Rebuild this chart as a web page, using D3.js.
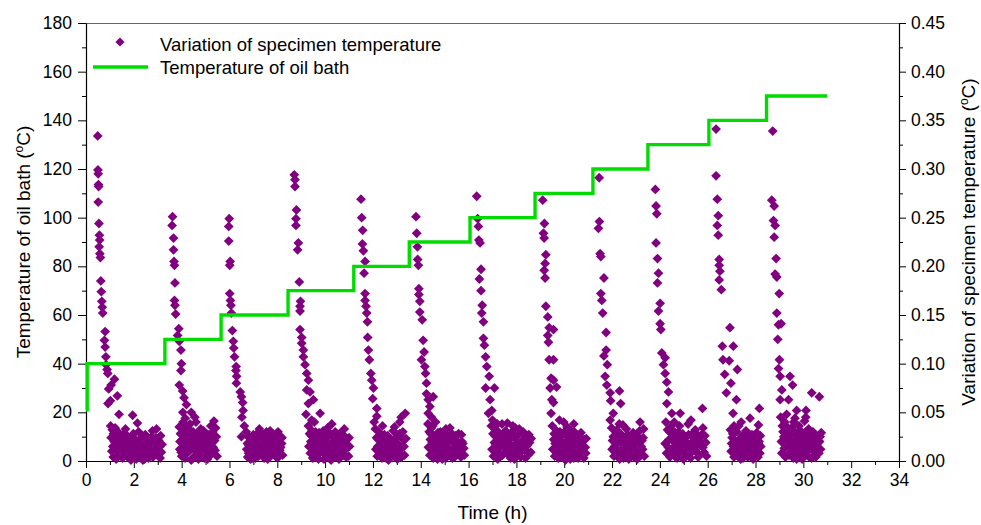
<!DOCTYPE html>
<html>
<head>
<meta charset="utf-8">
<script src="https://cdn.jsdelivr.net/npm/d3@7"></script>
<style>
body{margin:0;background:#fff;}
text{font-family:"Liberation Sans",Arial,sans-serif;fill:#000;}
</style>
</head>
<body>
<svg id="chart" width="981" height="525"></svg>
<script>
// ---- data ----
const xTicks = [0,2,4,6,8,10,12,14,16,18,20,22,24,26,28,30,32,34];
const leftTicks = [0,20,40,60,80,100,120,140,160,180];
const rightTicks = [0,0.05,0.10,0.15,0.20,0.25,0.30,0.35,0.40,0.45];
const seriesNames = ["Variation of specimen temperature","Temperature of oil bath"];

// oil bath step profile
const stepTimes  = [0, 0.05, 3.30, 5.65, 8.45, 11.20, 13.52, 16.06, 18.78, 21.20, 23.50, 26.05, 28.46, 31.00];
const stepLevels = [21, 40, 50, 60, 70, 80, 90, 100, 110, 120, 130, 140, 150, 150];

// variation of specimen temperature [time h, value °C] - decay branches and noise
const specimen = [
// cycle 1
[0.49,0.334],[0.50,0.299],[0.51,0.295],[0.52,0.284],[0.53,0.282],[0.51,0.266],[0.54,0.244],[0.56,0.232],[0.57,0.227],[0.55,0.220],[0.58,0.213],[0.60,0.209],[0.62,0.185],[0.64,0.174],[0.66,0.164],[0.68,0.158],[0.70,0.152],[0.80,0.133],[0.77,0.124],[0.80,0.117],[0.83,0.107],[0.84,0.099],[0.88,0.094],[0.91,0.090],[1.19,0.084],[1.05,0.078],[0.95,0.074],[1.31,0.067],[1.02,0.062],[0.92,0.059],[1.38,0.048],[1.95,0.047],[2.15,0.039],
[1.03,0.036],[1.10,0.032],[1.15,0.028],[1.22,0.034],[1.05,0.024],[1.18,0.020],[1.28,0.025],[1.35,0.018],[1.12,0.015],[1.25,0.012],[1.40,0.022],[1.45,0.008],[1.30,0.005],[1.50,0.015],[1.58,0.028],[1.62,0.010],[1.70,0.020],[1.75,0.004],[1.82,0.014],[1.90,0.024],[1.95,0.007],[2.02,0.017],[2.10,0.002],[2.18,0.012],[2.25,0.022],[2.32,0.006],[2.40,0.016],[2.48,0.027],[2.55,0.010],[2.62,0.003],[2.70,0.019],[2.78,0.031],[2.85,0.012],[2.92,0.024],[3.00,0.006],[3.08,0.015],[3.15,0.009],[2.20,0.030],[1.65,0.033],[2.95,0.033],
// cycle 2
[3.62,0.251],[3.60,0.242],[3.66,0.229],[3.66,0.217],[3.68,0.205],[3.70,0.201],[3.72,0.183],[3.70,0.165],[3.72,0.160],[3.75,0.151],[3.88,0.136],[3.83,0.129],[3.90,0.123],[3.97,0.114],[3.99,0.100],[3.97,0.093],[3.90,0.078],[4.04,0.072],[4.10,0.065],[4.20,0.058],[4.40,0.050],[4.05,0.050],[4.15,0.044],[4.55,0.045],[4.60,0.040],[4.35,0.038],
[3.90,0.035],[3.95,0.028],[4.02,0.022],[4.08,0.030],[4.12,0.015],[4.18,0.025],[4.22,0.008],[4.28,0.019],[4.32,0.031],[4.38,0.012],[4.45,0.024],[4.50,0.004],[4.55,0.017],[4.62,0.028],[4.68,0.009],[4.72,0.020],[4.80,0.033],[4.85,0.013],[4.90,0.024],[4.95,0.003],[5.02,0.016],[5.10,0.027],[5.15,0.008],[5.22,0.036],[5.28,0.019],[5.35,0.041],[5.40,0.011],[5.45,0.025],[4.00,0.005],[4.70,0.002],[3.92,0.012],
// cycle 3
[5.99,0.249],[5.97,0.241],[5.97,0.226],[6.03,0.205],[6.01,0.201],[6.01,0.172],[6.04,0.165],[6.06,0.160],[6.08,0.152],[6.12,0.134],[6.16,0.123],[6.18,0.116],[6.21,0.107],[6.28,0.097],[6.27,0.093],[6.30,0.087],[6.29,0.080],[6.45,0.071],[6.50,0.066],[6.55,0.060],[6.57,0.052],[6.52,0.045],[6.50,0.025],[6.62,0.036],
[6.70,0.030],[6.75,0.018],[6.80,0.008],[6.85,0.024],[6.92,0.013],[6.98,0.003],[7.05,0.020],[7.10,0.010],[7.15,0.028],[7.22,0.005],[7.28,0.016],[7.35,0.024],[7.40,0.008],[7.48,0.013],[7.55,0.030],[7.60,0.002],[7.68,0.019],[7.75,0.009],[7.80,0.027],[7.88,0.014],[7.95,0.004],[8.02,0.022],[8.03,0.030],[8.10,0.011],[8.18,0.018],[8.22,0.006],[7.25,0.033],[7.70,0.031],[6.88,0.002],
// cycle 4
[8.71,0.294],[8.74,0.289],[8.74,0.282],[8.80,0.258],[8.78,0.249],[8.78,0.242],[8.88,0.224],[8.85,0.217],[8.92,0.184],[8.97,0.164],[8.95,0.159],[8.95,0.154],[8.95,0.135],[9.02,0.127],[9.02,0.121],[9.09,0.114],[9.09,0.107],[9.16,0.099],[9.23,0.090],[9.30,0.083],[9.23,0.073],[9.37,0.071],[9.30,0.059],[9.51,0.063],[9.44,0.042],[9.79,0.049],[9.20,0.048],
[9.30,0.036],[9.35,0.028],[9.40,0.020],[9.45,0.031],[9.52,0.012],[9.58,0.024],[9.62,0.005],[9.68,0.017],[9.75,0.029],[9.80,0.009],[9.88,0.021],[9.95,0.002],[10.00,0.014],[10.08,0.026],[10.12,0.007],[10.20,0.018],[10.28,0.038],[10.32,0.011],[10.40,0.023],[10.45,0.004],[10.52,0.016],[10.60,0.028],[10.65,0.008],[10.72,0.020],[10.80,0.033],[10.85,0.012],[10.92,0.022],[10.98,0.005],[11.02,0.015],[9.55,0.040],[10.25,0.001],
// cycle 5
[11.50,0.269],[11.53,0.250],[11.57,0.237],[11.56,0.223],[11.60,0.216],[11.67,0.205],[11.63,0.193],[11.67,0.172],[11.67,0.165],[11.71,0.159],[11.74,0.152],[11.77,0.143],[11.78,0.127],[11.81,0.114],[11.85,0.104],[11.91,0.090],[11.95,0.083],[12.02,0.075],[11.99,0.064],[12.16,0.054],[12.16,0.046],[12.05,0.040],
[12.10,0.033],[12.15,0.024],[12.20,0.015],[12.25,0.030],[12.30,0.006],[12.35,0.020],[12.42,0.011],[12.48,0.027],[12.55,0.003],[12.60,0.017],[12.68,0.009],[12.72,0.023],[12.80,0.013],[12.85,0.031],[12.92,0.004],[12.98,0.018],[13.05,0.026],[13.10,0.008],[13.18,0.045],[13.22,0.014],[13.28,0.022],[13.35,0.049],[13.32,0.006],[12.40,0.036],[12.65,0.001],
// cycle 6
[13.80,0.251],[13.83,0.234],[13.86,0.220],[13.87,0.207],[13.90,0.201],[13.92,0.177],[13.92,0.171],[13.96,0.164],[13.96,0.153],[14.06,0.145],[14.10,0.124],[14.14,0.112],[14.03,0.104],[14.17,0.097],[14.20,0.090],[14.24,0.080],[14.24,0.069],[14.31,0.063],[14.52,0.066],[14.31,0.049],[14.38,0.056],[14.45,0.045],
[14.30,0.038],[14.35,0.030],[14.40,0.022],[14.45,0.034],[14.50,0.012],[14.55,0.026],[14.60,0.005],[14.65,0.018],[14.72,0.029],[14.78,0.009],[14.85,0.021],[14.90,0.002],[14.95,0.015],[15.02,0.025],[15.08,0.007],[15.15,0.019],[15.22,0.034],[15.28,0.011],[15.35,0.022],[15.42,0.004],[15.50,0.016],[15.58,0.028],[15.65,0.009],[15.72,0.020],[15.80,0.013],[14.62,0.040],
// cycle 7
[16.34,0.272],[16.38,0.249],[16.41,0.241],[16.43,0.227],[16.48,0.224],[16.52,0.197],[16.45,0.187],[16.52,0.175],[16.57,0.160],[16.55,0.152],[16.62,0.143],[16.62,0.126],[16.66,0.119],[16.71,0.107],[16.76,0.097],[16.86,0.087],[16.71,0.075],[17.08,0.075],[16.90,0.063],[16.97,0.052],[16.83,0.049],[17.00,0.042],
[16.95,0.036],[17.02,0.028],[17.08,0.019],[17.12,0.032],[17.18,0.010],[17.25,0.024],[17.30,0.004],[17.38,0.016],[17.45,0.028],[17.50,0.008],[17.58,0.021],[17.62,0.039],[17.68,0.013],[17.75,0.003],[17.82,0.025],[17.88,0.015],[17.95,0.034],[18.02,0.006],[18.08,0.019],[18.15,0.029],[18.22,0.010],[18.30,0.022],[18.38,0.003],[18.45,0.016],[18.52,0.027],[18.60,0.009],[17.40,0.038],
// cycle 8
[19.10,0.268],[19.17,0.244],[19.13,0.234],[19.16,0.229],[19.23,0.212],[19.20,0.203],[19.16,0.196],[19.20,0.188],[19.23,0.159],[19.31,0.148],[19.37,0.137],[19.31,0.129],[19.34,0.122],[19.37,0.104],[19.45,0.085],[19.41,0.075],[19.48,0.063],[19.45,0.049],[19.55,0.135],[19.55,0.104],[19.55,0.083],[19.68,0.076],[19.55,0.060],[19.80,0.042],
[19.50,0.036],[19.58,0.028],[19.62,0.018],[19.68,0.031],[19.72,0.010],[19.78,0.022],[19.85,0.004],[19.90,0.015],[19.95,0.027],[20.02,0.008],[20.08,0.020],[20.12,0.035],[20.18,0.012],[20.25,0.002],[20.30,0.024],[20.38,0.014],[20.42,0.030],[20.50,0.006],[20.55,0.018],[20.62,0.026],[20.68,0.009],[20.75,0.021],[20.82,0.003],[20.88,0.014],[20.92,0.023],[19.98,0.040],
// cycle 9
[21.46,0.291],[21.47,0.246],[21.43,0.239],[21.50,0.213],[21.53,0.210],[21.66,0.188],[21.53,0.172],[21.57,0.165],[21.61,0.152],[21.75,0.132],[21.75,0.114],[21.66,0.108],[21.80,0.099],[21.71,0.087],[21.78,0.078],[21.92,0.070],[22.31,0.072],[21.94,0.062],[22.36,0.059],[22.05,0.049],[21.92,0.042],
[21.98,0.034],[22.05,0.025],[22.10,0.015],[22.15,0.030],[22.22,0.006],[22.28,0.020],[22.35,0.011],[22.40,0.027],[22.48,0.003],[22.55,0.017],[22.60,0.033],[22.68,0.009],[22.72,0.022],[22.80,0.013],[22.88,0.029],[22.92,0.004],[23.00,0.018],[23.08,0.025],[23.17,0.040],[23.12,0.008],[23.22,0.015],[23.30,0.024],[23.35,0.005],[22.45,0.037],
// cycle 10
[23.81,0.279],[23.84,0.262],[23.87,0.254],[23.84,0.224],[23.90,0.208],[23.94,0.193],[23.90,0.183],[24.01,0.162],[23.94,0.154],[24.01,0.141],[24.04,0.135],[24.08,0.111],[24.22,0.106],[24.15,0.099],[24.22,0.090],[24.29,0.081],[24.36,0.071],[24.29,0.059],[24.50,0.049],[24.85,0.049],[25.78,0.054],
[24.25,0.040],[24.32,0.032],[24.38,0.022],[24.45,0.035],[24.50,0.012],[24.58,0.026],[24.62,0.005],[24.70,0.017],[24.78,0.030],[24.85,0.009],[24.92,0.021],[24.98,0.002],[25.05,0.014],[25.12,0.025],[25.18,0.038],[25.25,0.007],[25.32,0.019],[25.40,0.029],[25.45,0.011],[25.52,0.022],[25.60,0.004],[25.68,0.016],[25.75,0.027],[25.85,0.009],[25.92,0.019],[25.30,0.042],[25.80,0.034],
// cycle 11
[26.35,0.341],[26.35,0.293],[26.40,0.269],[26.44,0.252],[26.40,0.242],[26.44,0.232],[26.48,0.207],[26.48,0.201],[26.51,0.195],[26.48,0.186],[26.57,0.176],[26.93,0.137],[26.61,0.118],[27.07,0.118],[26.64,0.104],[26.90,0.103],[27.24,0.094],[26.71,0.089],[26.97,0.080],[26.78,0.070],[27.20,0.063],[27.06,0.049],[28.16,0.054],[27.77,0.044],[28.12,0.037],
[26.95,0.032],[27.02,0.024],[27.08,0.015],[27.12,0.029],[27.18,0.006],[27.25,0.020],[27.30,0.036],[27.35,0.011],[27.42,0.025],[27.48,0.003],[27.55,0.017],[27.60,0.031],[27.65,0.008],[27.72,0.021],[27.78,0.013],[27.85,0.027],[27.90,0.002],[27.95,0.018],[28.02,0.024],[28.08,0.010],[28.15,0.020],[28.22,0.015],[27.40,0.040],
// cycle 12
[28.72,0.339],[28.68,0.268],[28.78,0.262],[28.75,0.247],[28.82,0.242],[28.78,0.230],[28.86,0.208],[28.82,0.192],[28.89,0.189],[28.99,0.172],[28.89,0.152],[28.96,0.140],[29.07,0.141],[28.93,0.125],[29.00,0.104],[28.96,0.095],[29.03,0.087],[29.44,0.087],[29.55,0.078],[29.10,0.073],[30.35,0.070],[30.67,0.066],[29.03,0.063],[29.38,0.063],[29.72,0.052],[30.11,0.052],
[29.05,0.045],[29.12,0.036],[29.18,0.025],[29.22,0.040],[29.28,0.015],[29.35,0.030],[29.40,0.006],[29.48,0.021],[29.55,0.035],[29.60,0.011],[29.68,0.026],[29.72,0.002],[29.80,0.017],[29.88,0.031],[29.92,0.008],[30.00,0.022],[30.05,0.041],[30.12,0.013],[30.18,0.027],[30.25,0.004],[30.32,0.018],[30.40,0.030],[30.48,0.009],[30.55,0.021],[30.62,0.014],[30.70,0.025],[29.30,0.048],[29.65,0.044]
];

// additional readings inside the dense low-level clusters
const specimenDense = [
[1.08,0.010],[1.14,0.004],[1.20,0.028],[1.26,0.002],[1.33,0.030],[1.38,0.013],[1.43,0.027],[1.48,0.019],[1.53,0.003],[1.56,0.023],[1.60,0.016],[1.67,0.006],[1.72,0.026],[1.78,0.011],[1.85,0.019],[1.88,0.001],[1.93,0.014],[1.98,0.028],[2.05,0.009],[2.08,0.022],[2.14,0.018],[2.22,0.004],[2.28,0.014],[2.35,0.026],[2.38,0.001],[2.44,0.009],[2.52,0.019],[2.58,0.023],[2.65,0.013],[2.68,0.007],[2.74,0.025],[2.80,0.004],[2.88,0.018],[2.96,0.012],[3.04,0.021],[3.10,0.003],[3.18,0.017],[3.12,0.026],[2.45,0.002],[1.55,0.011],
[3.93,0.020],[3.98,0.009],[4.05,0.014],[4.10,0.036],[4.14,0.003],[4.20,0.017],[4.25,0.027],[4.30,0.010],[4.35,0.022],[4.40,0.001],[4.42,0.018],[4.48,0.030],[4.52,0.012],[4.58,0.022],[4.60,0.006],[4.65,0.015],[4.75,0.011],[4.78,0.026],[4.82,0.004],[4.88,0.018],[4.92,0.031],[4.98,0.010],[5.05,0.021],[5.08,0.002],[5.12,0.014],[5.18,0.024],[5.25,0.007],[5.30,0.030],[5.32,0.014],[5.38,0.021],[5.42,0.034],[5.48,0.005],[4.26,0.035],[4.06,0.040],
[6.72,0.012],[6.78,0.025],[6.82,0.016],[6.90,0.020],[6.95,0.008],[7.00,0.027],[7.02,0.014],[7.08,0.003],[7.12,0.018],[7.18,0.012],[7.20,0.024],[7.30,0.009],[7.32,0.028],[7.38,0.015],[7.42,0.022],[7.45,0.003],[7.52,0.018],[7.58,0.010],[7.62,0.025],[7.65,0.014],[7.72,0.005],[7.78,0.016],[7.85,0.022],[7.90,0.009],[7.98,0.017],[8.05,0.004],[8.08,0.026],[8.14,0.014],[8.20,0.024],[6.76,0.004],[7.48,0.027],
[9.32,0.015],[9.38,0.008],[9.42,0.026],[9.48,0.003],[9.50,0.020],[9.55,0.014],[9.60,0.030],[9.65,0.011],[9.70,0.023],[9.72,0.002],[9.78,0.018],[9.84,0.026],[9.90,0.012],[9.92,0.031],[9.98,0.019],[10.03,0.006],[10.05,0.024],[10.10,0.016],[10.15,0.030],[10.18,0.003],[10.22,0.012],[10.30,0.026],[10.35,0.019],[10.38,0.006],[10.42,0.030],[10.48,0.013],[10.55,0.024],[10.58,0.002],[10.62,0.018],[10.68,0.012],[10.75,0.027],[10.78,0.006],[10.82,0.019],[10.88,0.004],[10.95,0.014],[11.00,0.024],[10.10,0.034],
[12.12,0.012],[12.18,0.005],[12.22,0.022],[12.28,0.013],[12.32,0.027],[12.38,0.003],[12.45,0.018],[12.50,0.009],[12.52,0.022],[12.58,0.012],[12.62,0.026],[12.70,0.015],[12.75,0.005],[12.78,0.020],[12.82,0.008],[12.88,0.016],[12.95,0.024],[13.00,0.010],[13.02,0.002],[13.08,0.017],[13.12,0.028],[13.15,0.013],[13.20,0.004],[13.25,0.030],[13.30,0.015],[13.38,0.023],[12.90,0.035],[13.12,0.040],
[14.32,0.014],[14.38,0.006],[14.42,0.028],[14.48,0.019],[14.52,0.003],[14.58,0.014],[14.62,0.024],[14.68,0.010],[14.70,0.002],[14.75,0.020],[14.80,0.014],[14.82,0.030],[14.88,0.008],[14.92,0.025],[14.98,0.010],[15.00,0.019],[15.05,0.003],[15.10,0.027],[15.12,0.013],[15.18,0.006],[15.25,0.021],[15.30,0.028],[15.32,0.003],[15.40,0.015],[15.45,0.026],[15.48,0.008],[15.55,0.020],[15.60,0.013],[15.68,0.004],[15.70,0.027],[15.76,0.018],[15.82,0.006],[14.50,0.036],[15.05,0.033],
[16.98,0.012],[17.04,0.005],[17.10,0.026],[17.15,0.017],[17.20,0.031],[17.22,0.002],[17.28,0.013],[17.35,0.027],[17.40,0.020],[17.42,0.006],[17.48,0.017],[17.55,0.031],[17.60,0.011],[17.65,0.025],[17.70,0.006],[17.72,0.018],[17.78,0.029],[17.85,0.008],[17.90,0.024],[17.92,0.002],[17.98,0.016],[18.05,0.026],[18.10,0.011],[18.12,0.033],[18.18,0.004],[18.25,0.017],[18.28,0.030],[18.35,0.012],[18.40,0.025],[18.48,0.006],[18.55,0.019],[18.62,0.023],[17.20,0.038],[17.85,0.036],
[19.52,0.012],[19.56,0.022],[19.60,0.005],[19.65,0.015],[19.70,0.025],[19.75,0.003],[19.80,0.013],[19.82,0.030],[19.88,0.020],[19.92,0.006],[19.98,0.016],[20.00,0.030],[20.05,0.001],[20.10,0.012],[20.15,0.025],[20.20,0.018],[20.22,0.006],[20.28,0.031],[20.32,0.010],[20.35,0.021],[20.40,0.003],[20.45,0.017],[20.48,0.026],[20.52,0.012],[20.58,0.003],[20.65,0.018],[20.70,0.029],[20.72,0.014],[20.78,0.006],[20.85,0.022],[20.90,0.008],[20.40,0.038],
[22.00,0.012],[22.02,0.021],[22.08,0.005],[22.12,0.026],[22.18,0.013],[22.20,0.032],[22.25,0.009],[22.30,0.027],[22.32,0.002],[22.38,0.019],[22.42,0.009],[22.50,0.024],[22.52,0.012],[22.58,0.005],[22.62,0.020],[22.65,0.027],[22.70,0.002],[22.75,0.016],[22.78,0.024],[22.82,0.006],[22.85,0.020],[22.90,0.013],[22.95,0.026],[23.02,0.009],[23.05,0.002],[23.10,0.019],[23.15,0.031],[23.20,0.006],[23.25,0.021],[23.28,0.012],[23.32,0.033],[22.30,0.038],
[24.22,0.018],[24.28,0.008],[24.35,0.014],[24.40,0.030],[24.42,0.004],[24.48,0.023],[24.52,0.031],[24.55,0.008],[24.60,0.019],[24.65,0.029],[24.68,0.011],[24.72,0.003],[24.75,0.024],[24.80,0.014],[24.82,0.036],[24.88,0.018],[24.95,0.028],[25.00,0.011],[25.02,0.021],[25.08,0.005],[25.15,0.016],[25.20,0.027],[25.22,0.013],[25.28,0.003],[25.35,0.026],[25.38,0.012],[25.42,0.020],[25.48,0.032],[25.55,0.009],[25.58,0.017],[25.62,0.026],[25.65,0.006],[25.72,0.020],[25.80,0.014],[25.88,0.026],[25.95,0.005],[24.60,0.040],
[26.98,0.010],[27.00,0.018],[27.05,0.028],[27.10,0.004],[27.15,0.021],[27.20,0.012],[27.22,0.030],[27.28,0.008],[27.32,0.016],[27.38,0.002],[27.40,0.021],[27.45,0.013],[27.50,0.027],[27.52,0.009],[27.58,0.022],[27.62,0.015],[27.68,0.004],[27.70,0.028],[27.75,0.018],[27.80,0.006],[27.82,0.023],[27.88,0.011],[27.92,0.026],[27.98,0.007],[28.00,0.015],[28.05,0.029],[28.10,0.004],[28.12,0.018],[28.18,0.008],[28.20,0.026],[27.10,0.036],
[29.08,0.020],[29.10,0.008],[29.15,0.030],[29.20,0.013],[29.25,0.004],[29.30,0.022],[29.32,0.035],[29.38,0.017],[29.42,0.027],[29.45,0.009],[29.50,0.031],[29.52,0.014],[29.58,0.003],[29.62,0.021],[29.65,0.030],[29.70,0.015],[29.75,0.025],[29.78,0.007],[29.82,0.036],[29.85,0.012],[29.90,0.022],[29.95,0.002],[29.98,0.028],[30.02,0.016],[30.08,0.006],[30.10,0.030],[30.15,0.020],[30.20,0.011],[30.22,0.033],[30.28,0.013],[30.30,0.024],[30.35,0.003],[30.38,0.016],[30.42,0.022],[30.45,0.011],[30.50,0.027],[30.52,0.004],[30.58,0.018],[30.65,0.008],[30.68,0.020],[30.72,0.012],[30.75,0.029],[29.60,0.040],[30.10,0.045]
];

// ---- drawing ----
const svg = d3.select("#chart");
const m = {left:86, right:899, top:23, bottom:461};
const x = d3.scaleLinear().domain([0,34]).range([m.left,m.right]);
const yL = d3.scaleLinear().domain([0,180]).range([m.bottom,m.top]);
const yR = d3.scaleLinear().domain([0,0.45]).range([m.bottom,m.top]);
const purple = "#800080", green = "#00dc00";
const fs = "17.5px";

// top frame line
svg.append("line").attr("x1",m.left).attr("x2",m.right).attr("y1",m.top+0.5).attr("y2",m.top+0.5)
  .attr("stroke","#666").attr("stroke-width",1);

// minor ticks
const minorX = d3.range(1,34,2);
const minorL = d3.range(10,180,20);
const minorR = d3.range(0.025,0.45,0.05);

function styleAxis(g){
  g.selectAll("path").attr("stroke","#000").attr("stroke-width",1.2);
  g.selectAll(".tick line").attr("stroke","#000").attr("stroke-width",1);
  g.selectAll("text").style("font-size",fs).attr("fill","#000");
}

const gx = svg.append("g").attr("transform",`translate(0,${m.bottom})`)
  .call(d3.axisBottom(x).tickValues(xTicks).tickSize(7).tickSizeOuter(0).tickPadding(6).tickFormat(d3.format("d")));
styleAxis(gx);
svg.append("g").attr("transform",`translate(0,${m.bottom})`)
  .call(d3.axisBottom(x).tickValues(minorX).tickSize(4).tickFormat(""))
  .call(g=>{g.select("path").remove(); g.selectAll("line").attr("stroke","#000");});

const gl = svg.append("g").attr("transform",`translate(${m.left},0)`)
  .call(d3.axisLeft(yL).tickValues(leftTicks).tickSize(8).tickSizeOuter(0).tickPadding(6).tickFormat(d3.format("d")));
styleAxis(gl);
svg.append("g").attr("transform",`translate(${m.left},0)`)
  .call(d3.axisLeft(yL).tickValues(minorL).tickSize(4).tickFormat(""))
  .call(g=>{g.select("path").remove(); g.selectAll("line").attr("stroke","#000");});

const gr = svg.append("g").attr("transform",`translate(${m.right},0)`)
  .call(d3.axisRight(yR).tickValues(rightTicks).tickSize(7).tickSizeOuter(0).tickPadding(5).tickFormat(d3.format(".2f")));
styleAxis(gr);
svg.append("g").attr("transform",`translate(${m.right},0)`)
  .call(d3.axisRight(yR).tickValues(minorR).tickSize(4).tickFormat(""))
  .call(g=>{g.select("path").remove(); g.selectAll("line").attr("stroke","#000");});

// diamonds
const diamond = "M0,-4.9L4.9,0L0,4.9L-4.9,0Z";
svg.append("g").selectAll("path").data(specimen.concat(specimenDense)).join("path")
  .attr("d",diamond)
  .attr("transform",d=>`translate(${x(d[0])},${yR(d[1])})`)
  .attr("fill",purple);

// oil bath step line
const stepData = stepTimes.map((t,i)=>[t,stepLevels[i]]);
svg.append("path").datum(stepData)
  .attr("d",d3.line().x(d=>x(d[0])).y(d=>yL(d[1])).curve(d3.curveStepAfter))
  .attr("fill","none").attr("stroke",green).attr("stroke-width",3.4);

// axis titles
const tl = svg.append("text").attr("transform","translate(30,242) rotate(-90)")
  .attr("text-anchor","middle").style("font-size","19px");
tl.append("tspan").text("Temperature of oil bath (");
tl.append("tspan").text("o").style("font-size","12px").attr("dy","-7");
tl.append("tspan").text("C)").attr("dy","7");

const tr = svg.append("text").attr("transform","translate(975,242) rotate(-90)")
  .attr("text-anchor","middle").style("font-size","19px");
tr.append("tspan").text("Variation of specimen temperature (");
tr.append("tspan").text("o").style("font-size","12px").attr("dy","-7");
tr.append("tspan").text("C)").attr("dy","7");

svg.append("text").attr("x",(m.left+m.right)/2).attr("y",519).attr("text-anchor","middle")
  .style("font-size","19px").text("Time (h)");

// legend
svg.append("path").attr("d","M0,-4.6L4.6,0L0,4.6L-4.6,0Z").attr("transform","translate(120,42)").attr("fill",purple);
svg.append("text").attr("x",160).attr("y",51).style("font-size","18.5px").text(seriesNames[0]);
svg.append("line").attr("x1",93).attr("x2",148).attr("y1",67).attr("y2",67).attr("stroke",green).attr("stroke-width",3.4);
svg.append("text").attr("x",160).attr("y",74).style("font-size","18.5px").text(seriesNames[1]);
</script>
</body>
</html>
